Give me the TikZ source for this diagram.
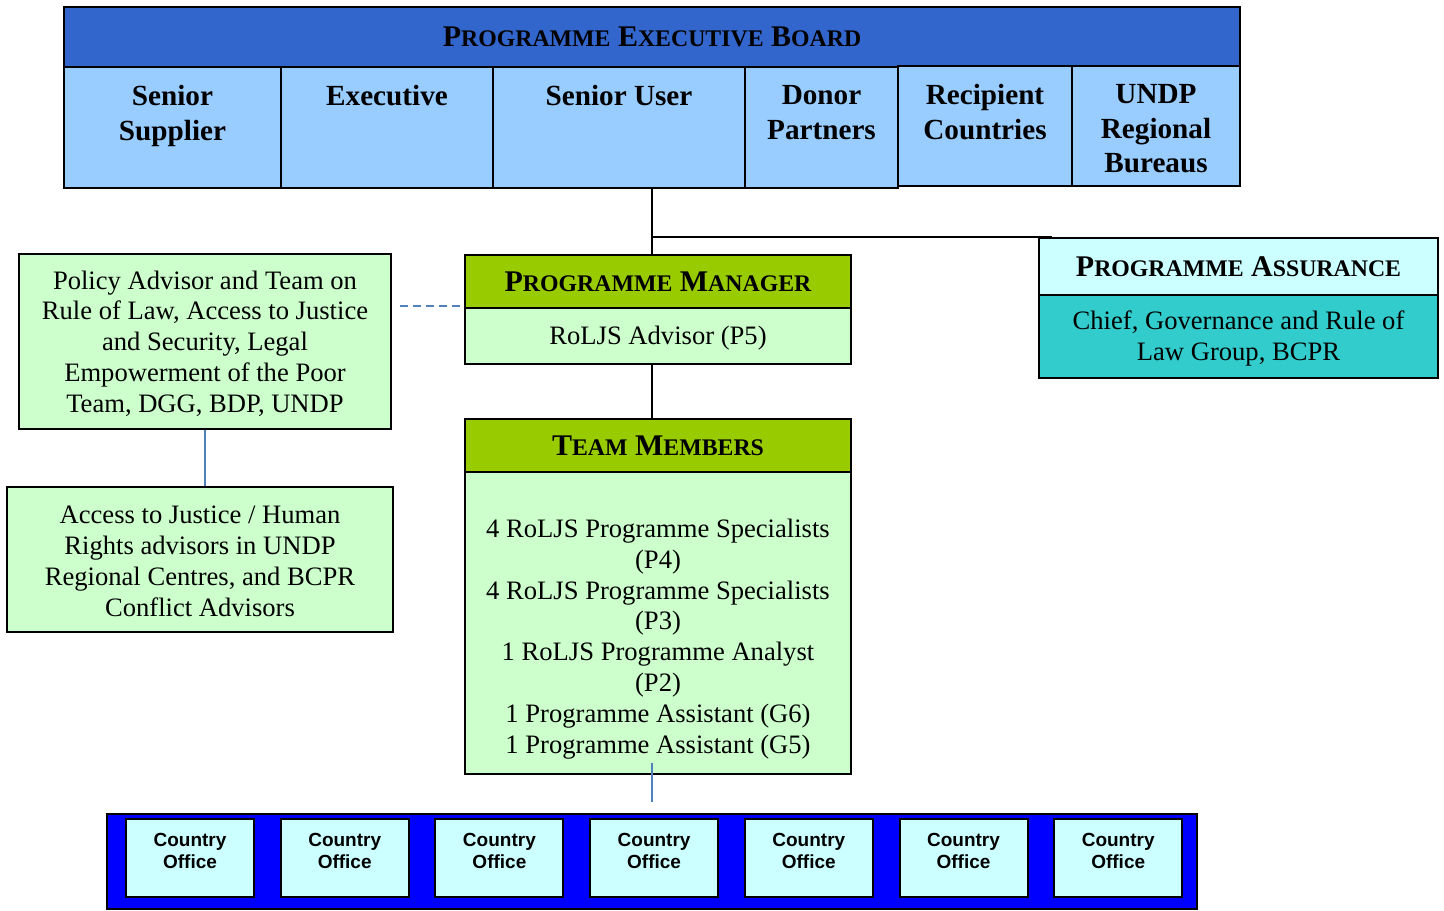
\documentclass[tikz,border=0pt]{standalone}
\usepackage{fontspec}
\setmainfont{Liberation Serif}
\setsansfont{Liberation Sans}
\usetikzlibrary{fit}
\definecolor{boardblue}{HTML}{3366CC}
\definecolor{cellblue}{HTML}{99CCFF}
\definecolor{mgrgreen}{HTML}{99CC00}
\definecolor{palegreen}{HTML}{CCFFCC}
\definecolor{palecyan}{HTML}{CCFFFF}
\definecolor{assurteal}{HTML}{33CCCC}
\definecolor{bandblue}{HTML}{0000FF}
\definecolor{linkblue}{HTML}{4F81BD}
\newcommand\capsw[2]{#1{\fontsize{11.9}{14}\selectfont #2}}
\tikzset{
 box/.style={draw=black,line width=1pt,inner sep=0pt},
 cell/.style={box,fill=cellblue},
 headtext/.style={inner sep=0pt,font=\bfseries\fontsize{15}{18}\selectfont},
 celltext/.style={anchor=north,align=center,inner sep=0pt,yshift=-9.5pt,
  font=\bfseries\fontsize{14.6}{17.3}\selectfont},
 boxtext/.style={align=center,inner sep=0pt,yshift=-1pt,font=\fontsize{13.3}{15.4}\selectfont},
 link/.style={line width=1.2pt},
 bluelink/.style={draw=linkblue,line width=0.8pt},
 office/.style={box,fill=palecyan,align=center,
  font=\sffamily\bfseries\fontsize{9.5}{11}\selectfont},
}
\begin{document}
\begin{tikzpicture}[x=0.5pt,y=-0.5pt]
\useasboundingbox (0,0) rectangle (1444,910);
% executive board
\node[box,fill=boardblue,fit={(64,7)(1240,67)}] (board) {};
\node[headtext] (boardtext) at (board.center)
 {\capsw{P}{ROGRAMME} \capsw{E}{XECUTIVE} \capsw{B}{OARD}};
\node[cell,fit={(64,67)(281,188)}] (sup) {};
\node[cell,fit={(281,67)(493,188)}] (exe) {};
\node[cell,fit={(493,67)(745,188)}] (user) {};
\node[cell,fit={(745,67)(898,188)}] (donor) {};
\node[cell,fit={(898,66)(1072,186)}] (recip) {};
\node[cell,fit={(1072,66)(1240,186)}] (bur) {};
\node[celltext] (suptext) at (sup.north) {Senior\\Supplier};
\node[celltext] (exetext) at (exe.north) {Executive};
\node[celltext] (usertext) at (user.north) {Senior User};
\node[celltext] (donortext) at (donor.north) {Donor\\Partners};
\node[celltext] (reciptext) at (recip.north) {Recipient\\Countries};
\node[celltext] (burtext) at (bur.north) {UNDP\\Regional\\Bureaus};
% manager and team
\node[box,fill=mgrgreen,fit={(465,255)(851,308)}] (pmhead) {};
\node[headtext] (pmheadtext) at (pmhead.center) {\capsw{P}{ROGRAMME} \capsw{M}{ANAGER}};
\node[box,fill=palegreen,fit={(465,308)(851,364)}] (pmbody) {};
\node[boxtext] (pmbodytext) at (pmbody.center) {RoLJS Advisor (P5)};
\node[box,fill=mgrgreen,fit={(465,419)(851,472)}] (tmhead) {};
\node[headtext] (tmheadtext) at (tmhead.center) {\capsw{T}{EAM} \capsw{M}{EMBERS}};
\node[box,fill=palegreen,fit={(465,472)(851,774)}] (tmbody) {};
\node[boxtext,yshift=-7pt] (tmtext) at (tmbody.center)
 {4 RoLJS Programme Specialists\\(P4)\\4 RoLJS Programme Specialists\\(P3)\\
  1 RoLJS Programme Analyst\\(P2)\\1 Programme Assistant (G6)\\1 Programme Assistant (G5)};
% advisors
\node[box,fill=palegreen,fit={(19,254)(391,429)}] (policy) {};
\node[boxtext] (policytext) at (policy.center)
 {Policy Advisor and Team on\\Rule of Law, Access to Justice\\and Security, Legal\\
  Empowerment of the Poor\\Team, DGG, BDP, UNDP};
\node[box,fill=palegreen,fit={(7,487)(393,632)}] (access) {};
\node[boxtext] (accesstext) at (access.center)
 {Access to Justice / Human\\Rights advisors in UNDP\\Regional Centres, and BCPR\\Conflict Advisors};
% assurance
\node[box,fill=palecyan,fit={(1039,238)(1438,295)}] (pahead) {};
\node[headtext] (paheadtext) at (pahead.center) {\capsw{P}{ROGRAMME} \capsw{A}{SSURANCE}};
\node[box,fill=assurteal,fit={(1039,295)(1438,378)}] (pabody) {};
\node[boxtext] (pabodytext) at (pabody.center) {Chief, Governance and Rule of\\Law Group, BCPR};
% country offices
\node[box,fill=bandblue,fit={(107,814)(1197,909)}] (band) {};
\foreach \i in {0,...,6}
 \node[office,fit={({126+154.7*\i},819)({254+154.7*\i},897)}] (co\i) {Country\\Office};
% connectors
\coordinate (spine) at (652,200);
\draw[link] (user.south -| spine) -- (pmhead.north -| spine);
\draw[link] (spine |- pahead.north) -- ([xshift=7pt]pahead.north west);
\draw[link] (pmbody.south -| spine) -- (tmhead.north -| spine);
\draw[bluelink,dash pattern=on 4pt off 2.5pt]
 ([xshift=4pt,yshift=1.5pt]policy.east |- pmhead.south west) -- ([yshift=1.5pt]pmhead.south west);
\draw[bluelink] (policy.south) -- (policy.south |- access.north);
\draw[bluelink] ([yshift=6pt]tmbody.south -| spine) -- ([yshift=5.5pt]band.north -| spine);
\end{tikzpicture}
\end{document}
